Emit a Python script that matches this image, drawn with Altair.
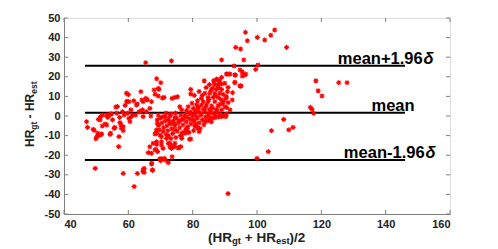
import altair as alt
import pandas as pd

# ---- data: mean HR (x) and HR difference (y) ----
mean_hr = [
    47.0, 47.3, 49.1, 49.4, 49.9, 49.7, 50.5, 50.9, 51.5, 50.7, 51.4, 51.9, 52.8, 52.1, 53.3, 54.0, 53.6, 54.3, 54.5, 55.1,
    55.6, 56.1, 56.6, 57.0, 57.1, 57.3, 57.7, 57.8, 58.2, 58.4, 58.4, 58.7, 59.0, 59.4, 59.6, 60.0, 60.2, 59.7, 60.2, 60.8,
    61.3, 61.7, 61.8, 62.3, 62.5, 62.8, 63.4, 63.9, 64.2, 64.4, 64.6, 64.9, 65.4, 65.4, 65.6, 65.9, 66.2, 66.7, 67.0, 67.2,
    67.3, 67.5, 68.0, 68.3, 68.3, 68.6, 68.8, 69.1, 69.3, 69.6, 70.1, 70.3, 70.1, 70.6, 70.8, 71.2,
    59.5, 62.8, 64.6, 65.7, 67.2, 69.3, 69.5, 63.6, 56.4, 54.8, 51.2, 53.3, 55.8, 57.4, 58.4, 60.5, 61.0, 64.6, 69.0, 68.8,
    54.5, 64.6, 66.7, 67.7, 68.8, 68.6, 64.9, 50.2, 51.7,
    71.1, 73.4, 73.6, 74.5, 75.3, 79.4, 79.4, 83.6, 87.4, 88.4, 86.7, 87.9, 89.0, 86.1, 87.4, 89.0, 90.0, 83.8, 85.3, 86.9,
    88.4, 84.8, 86.4, 87.9, 82.7, 81.5, 83.3, 84.8, 86.9, 89.5, 79.8, 81.2, 82.7, 84.3, 85.9, 87.9, 90.0, 78.6, 80.2, 81.7,
    83.3, 85.3, 87.4, 76.6, 78.1, 76.0, 89.0, 69.3, 71.4, 72.9, 74.5, 77.6, 79.1, 80.7, 82.7, 84.8, 86.4, 88.4, 90.5,
    69.0, 69.5, 70.0, 70.5, 71.0, 71.5, 72.0, 72.5, 73.0, 73.5, 74.0, 74.5, 75.0, 75.5, 76.0, 76.5, 77.0, 77.5, 78.0, 78.5,
    79.0, 79.5, 80.0, 80.5, 81.0, 81.5, 82.0, 82.5, 83.0, 84.0, 85.0, 86.0, 87.0, 88.0, 89.0,
    72.3, 73.8, 75.2, 76.8, 77.8, 74.8, 76.2, 71.8, 73.2, 78.8, 80.3, 82.3, 83.5, 84.5, 85.8, 72.8, 74.2, 75.8, 77.2, 78.2,
    79.8, 81.2, 76.3, 74.7, 73.3, 71.7, 79.3, 80.8, 82.0, 83.8, 85.5, 87.5, 81.8, 84.0, 86.2, 88.5, 85.0, 83.0, 87.0, 88.8,
    85.7, 84.2, 88.0, 86.5, 85.2, 89.5, 82.0, 80.5,
    69.3, 68.8, 70.8, 69.8, 71.9, 70.3, 68.8, 72.4, 70.8, 73.4, 75.5, 74.5, 76.6, 77.6, 78.1, 79.4, 80.7, 81.7, 83.8, 85.3,
    86.9, 89.0, 68.3, 69.8, 70.3, 71.4, 72.4, 73.6, 67.2, 67.5, 70.0, 72.9, 74.3, 75.7, 70.3, 72.4, 74.5, 76.6, 78.6, 81.7,
    80.9, 73.0, 73.7, 76.3, 79.0, 82.0,
    87.6, 89.0, 88.2, 86.9, 90.7, 91.3, 93.1, 94.7, 95.4, 96.5, 99.6, 92.9, 100.3, 93.1, 94.7, 92.4, 90.5, 89.3, 91.0, 91.6,
    90.0, 88.9, 96.4, 97.0, 100.1, 102.4, 104.3, 105.5, 109.2, 93.4, 94.9, 95.9, 95.4, 96.2, 90.5, 91.6, 93.3, 93.1, 94.9, 91.0,
    90.8, 92.3, 90.3, 90.5, 90.3, 95.0, 89.0,
    118.3, 125.4, 128.0, 119.0, 120.2, 116.6, 117.1, 117.6, 108.3, 109.9, 111.2, 104.5, 103.5, 100.0, 91.0,
]
diff_hr = [
    -2.9, -5.8, -6.8, -7.3, -11.6, -26.7, -8.8, -9.9, -9.5, -1.7, -0.3, -5.1, -4.1, 0.5, 0.5, 0.5, -0.7, -9.4, 1.0, -2.0,
    -6.3, 4.6, 4.8, -15.6, -10.5, -0.7, -4.6, -6.1, 2.2, -29.3, -7.5, 0.5, 5.4, 11.6, 7.5, 10.9, 7.3, 1.4, -1.2, 3.1,
    0.5, 7.7, -36.0, 0.5, 5.6, -29.3, 2.2, 12.4, 8.2, 3.1, -27.6, -28.8, 27.2, 9.0, 2.2, 8.2, -18.7, 3.9, 0.0, -19.0,
    -24.1, -27.6, 13.3, 11.1, -9.2, -8.8, 19.0, -18.2, 14.1, -7.1, 17.0, -14.8, -22.1, 9.2, -0.3, -21.6,
    7.3, 6.1, 7.3, 8.5, 7.3, 10.2, 13.6, 2.2, 1.4, 1.0, -2.0, -4.6, -5.8, -3.4, -5.5, -2.9, -0.3, -0.3, -3.7, -8.0,
    -8.8, -28.4, -15.7, -13.9, -13.1, -17.0, -26.7, -10.6, -9.2,
    9.5, 28.1, 9.0, 9.5, 9.8, 13.6, 11.2, 18.0, 18.7, 18.0, 16.7, 15.8, 16.3, 14.1, 13.6, 13.6, 16.7, 11.6, 11.6, 11.6,
    11.6, 9.5, 9.5, 9.5, 9.0, 7.8, 7.3, 7.3, 7.3, 7.3, 6.5, 5.6, 5.6, 5.6, 5.1, 5.1, 4.7, 4.7, 3.9, 3.9,
    3.4, 3.4, 3.4, 3.1, 2.7, 4.7, 3.1, 0.5, -0.3, 0.0, -0.7, 0.5, 1.0, 1.0, 1.0, 1.0, 1.4, 1.0, 1.0,
    -2.0, -4.5, -1.0, -3.5, -6.0, -2.5, -5.0, -1.5, -4.0, -6.5, -2.5, -5.0, -1.0, -3.5, -6.0, -2.0, -4.5, -0.5, -3.0, -5.5,
    -1.5, -4.0, 0.0, -2.5, -5.0, -1.0, -3.5, 0.5, -2.0, -0.5, 0.0, -1.0, 0.5, -0.5, 0.0,
    -7.5, -9.0, -7.8, -8.5, -7.0, -11.0, -10.0, -9.5, -11.5, -8.5, -7.5, -6.5, -4.5, -2.5, -3.0, -3.0, -4.0, -2.5, -1.5, -0.5,
    -2.0, -0.5, 0.5, 1.5, 1.0, 1.5, 2.0, 2.5, 2.0, 2.5, 2.0, 2.5, 4.5, 4.5, 4.0, 6.0, 8.5, 10.5, 10.5, 8.5,
    13.0, 14.5, 14.5, 18.0, 16.0, 11.0, 12.5, 10.5,
    -4.6, -7.1, -8.0, -9.7, -11.4, -13.1, -14.4, -13.9, -16.5, -16.5, -16.2, -13.9, -11.4, -8.8, -6.3, -11.7, -5.5, -6.3, -2.9, -2.0,
    -0.9, -0.3, -17.3, -21.9, -21.9, -22.4, -23.8, -20.8, -24.5, -27.6, -22.8, -15.7, -15.7, -16.2, -10.6, -10.0, -7.1, -9.7, -8.0, -6.0,
    -4.2, -14.0, -15.6, -15.6, -11.9, -8.0,
    18.7, 19.7, 16.3, 15.8, 21.4, 21.4, 20.9, 23.5, 20.4, 21.4, 23.8, 25.5, 26.0, 17.0, 15.3, 11.9, 9.8, 6.5, 6.8, 3.1,
    0.0, 0.0, 42.7, 38.4, 40.1, 38.8, 41.2, 43.9, 35.0, 35.0, 34.2, 28.6, 22.6, 20.9, 21.4, 21.4, 20.9, 17.2, 15.3, 14.6,
    12.4, 8.2, 9.0, 4.4, -0.3, 15.3, 28.6,
    18.0, 17.0, 17.0, 12.9, 10.2, 4.4, 3.4, 1.4, -1.7, -7.1, -5.8, -7.5, -18.2, -21.6, -39.6,
]

limit_labels = ["mean+1.96", "mean", "mean-1.96"]
limit_values = [25.7, 1.7, -22.4]
limit_start = [46.5, 46.5, 46.5]
limit_end = [146.0, 146.0, 146.0]
label_right = [151.5, 149.0, 152.1]
delta_x = [151.8, 152.4]
delta_y = [25.7, -22.4]

x_ticks = [40, 60, 80, 100, 120, 140, 160]
y_ticks = [-50, -40, -30, -20, -10, 0, 10, 20, 30, 40, 50]

W, H = 386, 196
FONT = "Liberation Sans"
GREY = "#808080"
INK = "#222222"

xs = alt.Scale(domain=[40, 160], nice=False, zero=False)
ys = alt.Scale(domain=[-50, 50], nice=False, zero=False)
xaxis = alt.Axis(values=x_ticks, grid=False, ticks=False, domainColor=GREY, labelFont=FONT,
                 labelFontWeight="bold", labelFontSize=11, labelColor=INK, labelPadding=4,
                 labelExpr="'' + datum.value")
yaxis = alt.Axis(values=y_ticks, grid=False, ticks=False, domainColor=GREY, labelFont=FONT,
                 labelFontWeight="bold", labelFontSize=11, labelColor=INK, labelPadding=4,
                 labelExpr="'' + datum.value")

def X(f):
    return alt.X(f, scale=xs, axis=xaxis, title=None)

def Y(f):
    return alt.Y(f, scale=ys, axis=yaxis, title=None)

pts = pd.DataFrame({"m": mean_hr, "d": diff_hr})
ASTER = "M-1,0L1,0M0,-1L0,1M-0.7,-0.7L0.7,0.7M-0.7,0.7L0.7,-0.7"

points = alt.Chart(pts).mark_point(
    shape=ASTER, filled=False, stroke="#ff0000", strokeWidth=1.1, size=26, opacity=1
).encode(x=X("m:Q"), y=Y("d:Q"))

lim = pd.DataFrame({"lab": limit_labels, "v": limit_values, "s": limit_start, "e": limit_end, "r": label_right})
lines = alt.Chart(lim).mark_rule(color="black", strokeWidth=2).encode(
    x=X("s:Q"), x2="e:Q", y=Y("v:Q"))
labels = alt.Chart(lim).mark_text(
    font=FONT, fontWeight="bold", fontSize=16.5, align="right", baseline="alphabetic", dy=-2, color="black"
).encode(x=X("r:Q"), y=Y("v:Q"), text="lab:N")
dl = pd.DataFrame({"x": delta_x, "y": delta_y, "t": ["δ", "δ"]})
deltas = alt.Chart(dl).mark_text(
    font=FONT, fontWeight="bold", fontStyle="italic", fontSize=16.5, align="left", baseline="alphabetic",
    dy=-2, color="black"
).encode(x=X("x:Q"), y=Y("y:Q"), text="t:N")

xt = pd.DataFrame({"t": x_ticks})
yt = pd.DataFrame({"t": y_ticks})
tick_b = alt.Chart(xt).mark_rule(color=GREY, strokeWidth=1).encode(x=X("t:Q"), y=alt.value(H), y2=alt.value(H - 4))
tick_t = alt.Chart(xt).mark_rule(color=GREY, strokeWidth=1).encode(x=X("t:Q"), y=alt.value(0), y2=alt.value(4))
tick_l = alt.Chart(yt).mark_rule(color=GREY, strokeWidth=1).encode(y=Y("t:Q"), x=alt.value(0), x2=alt.value(4))
tick_r = alt.Chart(yt).mark_rule(color=GREY, strokeWidth=1).encode(y=Y("t:Q"), x=alt.value(W), x2=alt.value(W - 4))

def piece(txt, px, py, fs, angle=0):
    return alt.Chart(pd.DataFrame({"t": [txt]})).mark_text(
        text=txt, font=FONT, fontWeight="bold", fontSize=fs, align="left", baseline="alphabetic",
        angle=angle, color=INK
    ).encode(x=alt.value(px), y=alt.value(py))

# x-axis title "(HR_gt + HR_est)/2"
xb, xsb = 223.5, 226.3
xtitle = [
    piece("(HR", 144.0, xb, 13.5),
    piece("gt", 168.0, xsb, 9.5),
    piece("+ HR", 180.8, xb, 13.5),
    piece("est", 211.9, xsb, 9.5),
    piece(")/2", 225.6, xb, 13.5),
]
# y-axis title "HR_gt - HR_est" (rotated)
yb, ysb = -30.5, -27.0
ytitle = [
    piece("HR", yb, 129.0, 12, 270),
    piece("gt", ysb, 111.7, 8.5, 270),
    piece("- HR", yb, 100.4, 12, 270),
    piece("est", ysb, 75.7, 8.5, 270),
]

chart = alt.layer(
    tick_b, tick_t, tick_l, tick_r, lines, points, labels, deltas, *xtitle, *ytitle
).properties(
    width=W, height=H,
    padding={"left": 56, "top": 10, "right": 40, "bottom": 33},
    autosize=alt.AutoSizeParams(type="none"),
).configure_view(stroke=GREY, strokeWidth=1).configure(background="white")

chart.save("out.html", embed_options={"renderer": "svg", "actions": False})
